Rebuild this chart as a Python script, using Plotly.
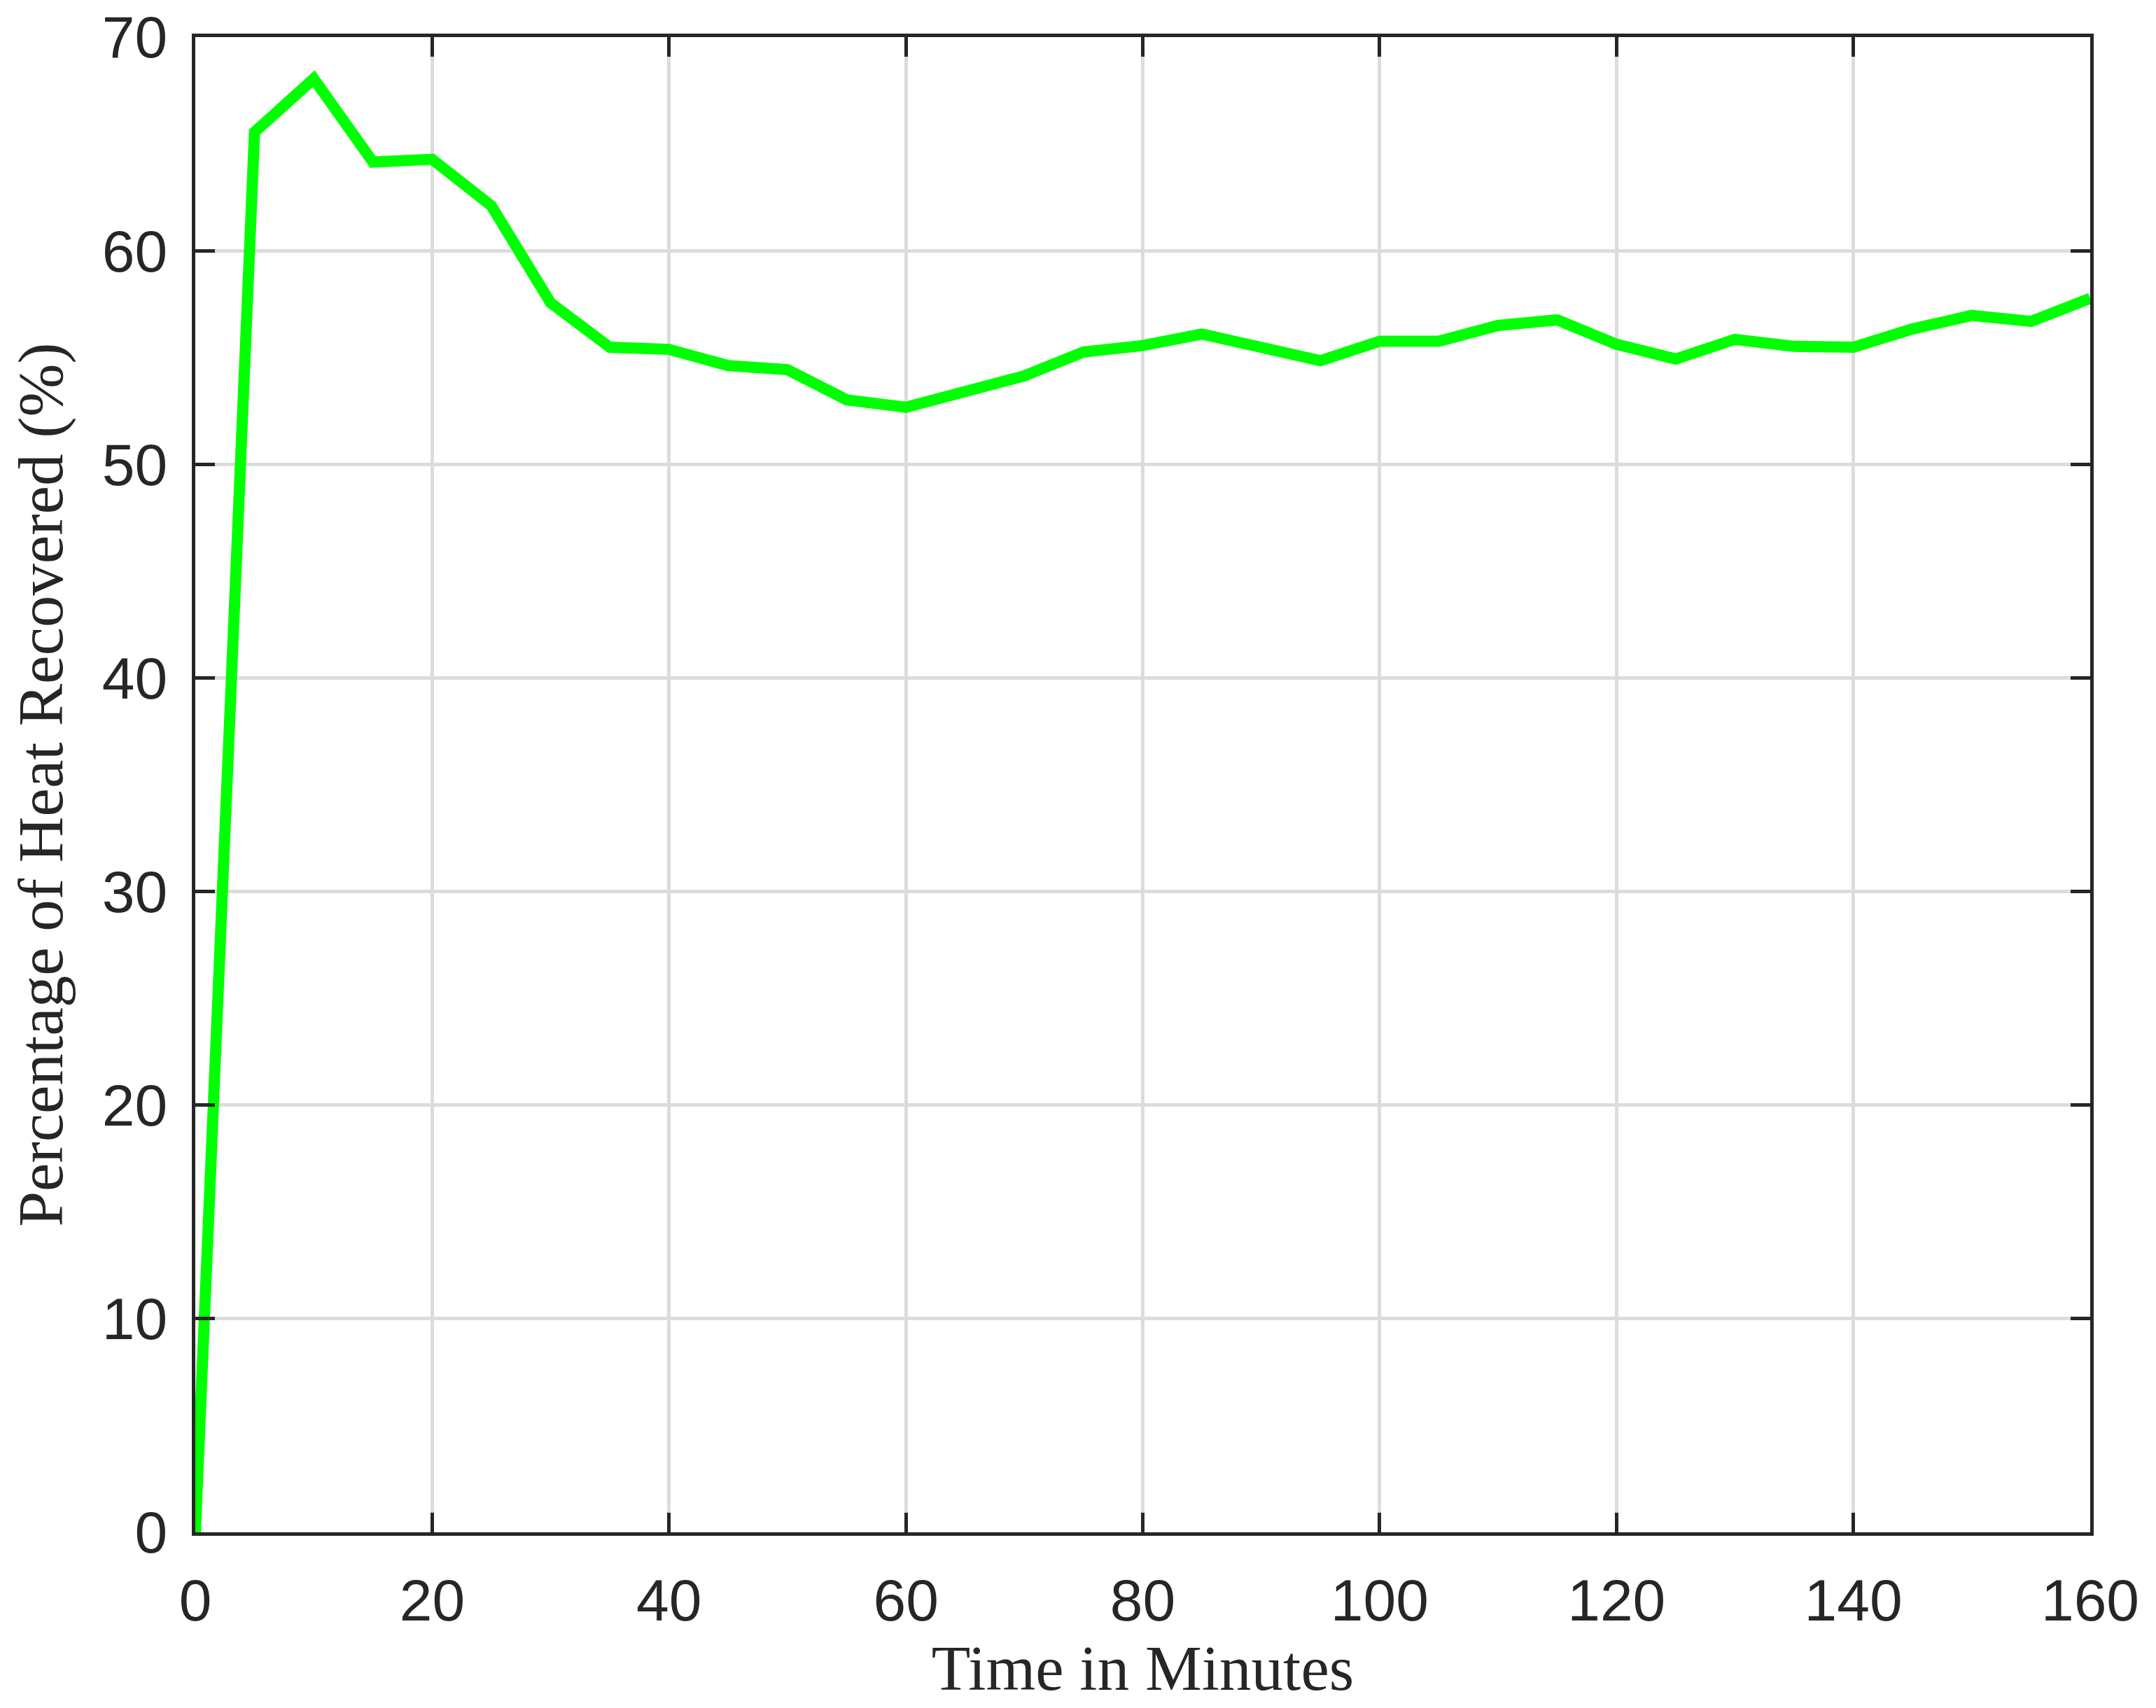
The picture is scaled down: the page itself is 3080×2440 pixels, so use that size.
import plotly.graph_objects as go

time_min = [0, 5, 10, 15, 20, 25, 30, 35, 40, 45, 50, 55, 60, 65, 70, 75, 80,
            85, 90, 95, 100, 105, 110, 115, 120, 125, 130, 135, 140, 145, 150, 155, 160]
heat_recovered = [0.0, 65.55, 68.05, 64.15, 64.28, 62.1, 57.56, 55.48, 55.38, 54.62, 54.43,
                  53.02, 52.67, 53.45, 54.14, 55.26, 55.56, 56.1, 55.5, 54.85, 55.76,
                  55.76, 56.5, 56.76, 55.62, 54.93, 55.85, 55.52, 55.48, 56.34, 56.97,
                  56.69, 57.77]
x_ticks = [0, 20, 40, 60, 80, 100, 120, 140, 160]
y_ticks = [0, 10, 20, 30, 40, 50, 60, 70]

x_title = "Time in Minutes"
y_title = "Percentage of Heat Recovered (%)"

TXT = "#262626"

fig = go.Figure()
fig.add_trace(go.Scatter(
    x=time_min, y=heat_recovered, mode="lines",
    line=dict(color="#00ff00", width=16),
    showlegend=False,
))

axis_common = dict(
    showline=True, linecolor=TXT, linewidth=5, mirror="ticks",
    ticks="inside", ticklen=28, tickwidth=5, tickcolor=TXT,
    showgrid=True, gridcolor="#dcdcdc", gridwidth=5,
    zeroline=False,
    tickfont=dict(family="Liberation Sans, Arial, sans-serif", size=84, color=TXT),
    ticklabeloverflow="allow",
    automargin=False,
)

fig.update_xaxes(
    range=[0, 160], tickvals=x_ticks, ticktext=[str(v) for v in x_ticks],
    title=dict(text=x_title, font=dict(family="Liberation Serif, serif", size=91, color=TXT), standoff=16),
    ticklabelstandoff=20,
    **axis_common,
)
fig.update_yaxes(
    range=[0, 70], tickvals=y_ticks, ticktext=[str(v) for v in y_ticks],
    title=dict(text=y_title, font=dict(family="Liberation Serif, serif", size=91, color=TXT), standoff=30),
    ticklabelstandoff=18,
    **axis_common,
)

fig.update_layout(
    width=3080, height=2440,
    margin=dict(l=271, r=102, t=45, b=259, pad=0),
    paper_bgcolor="white", plot_bgcolor="white",
)

fig.write_html("out.html")
